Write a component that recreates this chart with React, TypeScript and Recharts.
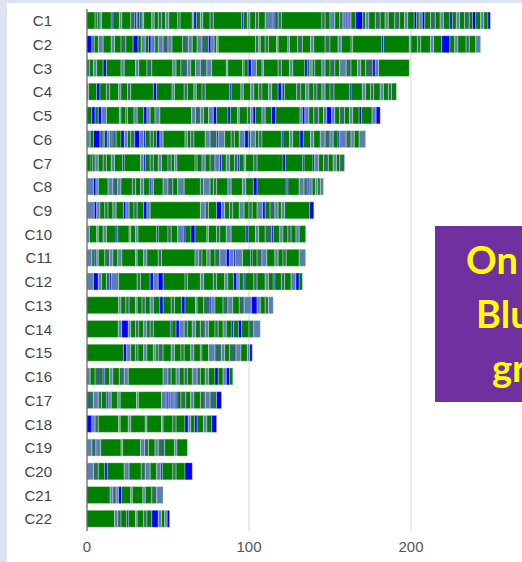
import React from "react";
import { BarChart, Bar, XAxis, YAxis, CartesianGrid, Cell } from "recharts";

const CATEGORIES = ["C1","C2","C3","C4","C5","C6","C7","C8","C9","C10","C11","C12","C13","C14","C15","C16","C17","C18","C19","C20","C21","C22"];
const TOTALS = [249,243,199,191,181,172,159,146,140,135,135,133,115,107,102,90,83,80,62,65,47,51];
const X_TICKS = [0,100,200];

// segment tokens: colour code + start position
const C1 = ["g0","t5","g6.5","s8","g9","b15","g16","s20","g21.5","t27","b29.5","g30.5","b31.5","g32.5","s34","g35","s40","g41.5","t44","g46","s48.5","g50.5","t56","g57.5","s65","b66","g67.5","s70","g71.5","t76","g78","b95.5","g96.5","s99","g100.6","t104","g106","s110","b115","g116","t118","g120","t145","g147","s150","g153","t156","s158","b160","s161","g163","b166","g170.2","s172","g174","t178","g181","s184","g186","t190","g193","s196","g198","b202","g203.5","s205","b207","g208.5","t212","g215","s218","g220","b224","g225.5","s228","g230","t233","g236","b238","g240","s243","g245","b247.5"];
const C2 = ["b0","t3","g4.5","s7","g10","s15","g17","t21","g24","b28.5","g31.5","s33.5","g36","b38","s39.5","g42","s44","t47","s50","g52.5","t59","s62.5","g65","s68","t71","b75","s76.5","g78.5","s80","g81","t104","s106","g107","t110","g112","s117","g118","s124","g125","t130","g133","s138","g140","t147","g150","s155","g157","t163","g164","b182","g183","s199","g200","t204","g206","s212","g214","b219","g224","s227","g229","t234","g236","s240"];
const C3 = ["t0","g1.5","s4","g6","b10","g12","s21","g23","s30","g32","t37","g40","s53","g55","t58","s62","g64","s67","t70","s74","g77","s86","g87","t96","g97","b99.5","s101.5","g104.7","s108","g109","t118","g120","s125","g127","b134.5","g136","s137.5","t139","g140.7","s145","g147","t150","g153","s156","t160","g163","s167","g169","t172","b176.5","s178","g180"];
const C4 = ["s0","g1","b6","g8","t12","g14","s19.5","g21","t25","g27","b41","g43","s52.5","g54","t60","g62","s66","g67.5","t71","g73","b88","g89","s95","g96.5","s101","g103","t106","g108","s112","g114","b118","g120","b121","g122","t129.4","g132","s135","g137","t140","g142","s145","g147","t150","g152.5","b162","g163","s170","g172","t175","g177","s181","g183","t186","g188"];
const C5 = ["g0","b3","g5","b7","s9","g12","s20","g21","t24","g25","s29","g31","b35","s37","g39","s42","g45","s64.6","t67","s70","g72","s75","b78","g80","b87","g88.5","s93","g94","t99","s101","b102.5","g104","s108","g110","b114","g116.5","s131.5","b133","s134.5","g137","t140","g143","s146","b148","s151","g153","t156","g159","s162","g164","b168","g169.5","s176","b178.5"];
const C6 = ["s0","g2","b4","t8","g10","b11","s12.5","g14","b15","t16","g18","b21","s23","g25","t27","b29.5","s32.5","b35","g36","t39","g41","b43","s45","g47","s60.5","g62","t64","g66","s73","t76","b80","s81","g85","t89","g91","s94","b97.5","g99.6","s101","g104","t106","g108","b120","g121","s125","g127","b131.5","g133.5","s138","g140","s144","t147","s150","g152","b155","s156","t160","s163","g165","s168"];
const C7 = ["g0","b2.5","g3.5","s5","g7","t10","g12","s15","g17","b22","g23","s33","b35","g36","t39","g41","s44","g46","t50","g52","s54","g55.5","t66.7","g68","s71","g73","t76","s79","b82","g83","s86","g88","t91","b93","g94","s97","g98","t103","g105","b121","g122.5","b133","g134","b139.5","s140.5","g143","t146","g149","s152","g154","t156"];
const C8 = ["s0","b4","s5.5","g7","s13","t16","s19","g21","t28","g30","s33","g35","b38.5","s39.5","g41","s47","t50","g53","s56","g60","t70","s72","g76","t78","g80","s87","g89","s96","g98","b102.7","g105","b123","g124","s131","t134","b136","s137","g139","s141","g142.5","s144"];
const C9 = ["s0","b4.5","s6","g8","t11","g13","s16","g18","b22.5","s24","g26","t29","g31","b35","s37","g39","s70","t73","g75","b80","s83","g85","t88","g90","s94","g97","t100","g102","s105","b108.5","g110","t113","s116","g118","s120","g122","b137.5"];
const C10 = ["s0","g1.5","s6","g7","s10","g12","b18","g19","s26","g27","s30","g31.5","b43","g44","t50","g52","s56","b59.5","g60.5","b64.2","g66.7","s74","g75","t80","g82","s86","g89","b98.2","g99.5","s104","g106","t110","b114","g115","s119","g121","t124","g126","s129","g131"];
const C11 = ["s0","t3","b5","s6","g7","t11","s14","g16","s19","g21.5","s30","g31","s35","g37","t44","g46","s66.7","t69","g71","s74","g76","t79","s82","b86","s88","b90.5","s91.5","g96","b101","g102","t105","s108","g111","s116","g118","t121","g123","s131"];
const C12 = ["s0","b4","s7","g9","t12","b14","s15","g19.5","t31","g33","b39","s41","b44","g47","t60.5","g62","s70","g72","t78","g80","s85","g87","b90.5","s92.5","g94","b96.5","g97.5","t103","g105","s110","g112","b115","g116","t120","g122","s126","b129","g131"];
const C13 = ["g0","s19.5","g21","t24","g26","s30","g31","t34","g36","s39","g41","b45","g47","t52","g54","b58.5","g60.5","s67","g68","t72","b76","s77","g79","t84","s87","g90","t94","s97","b101.5","s105","g107","t110","s112"];
const C14 = ["g0","s19.3","b21.4","s25.5","g27","t30","g32","s35","g37","t39","g41","b51.5","g52.5","b55","s57","t60","g62","s65","g67","t70","s73","g75","t79","g81","s84","g86","b89.5","g90.5","b93.5","g95.5","t100","s103"];
const C15 = ["g0","b22.5","s24.5","g27","t30","g31.5","s35","g37","s41","g42.5","t44","g47","s52","g54","t58","g60","s64","g66","t70","g71","s75","t79","s83","g85","t88","s92","g95","s99","b100.5"];
const C16 = ["s0","g2","t5","b10","g11","s14","g16","t20","s23","g25.5","s47","t50","g52","s55","g57","t60","g62","s65","t68","g70","s73","g75","b79","g81","s84","b86","g88"];
const C17 = ["t0","s4","t7","g9","b12","s13","g15","s19","g20.5","s30.6","g31.7","s46","b49","s50","b52","s53","b54.5","g55.5","t58","g61","s64","g66","t70","s73","t76","b80"];
const C18 = ["b0","s3","t5","g7","s19.5","g20.5","s25.5","g27","s36","g37","s46","g47","t53","g55","b60.5","s62.5","g64","b66.5","g68","s72","g74","b77"];
const C19 = ["s0","t3","s5.5","g8.5","s21","g22","s33","t35.5","g38","s42","t44","g48","s54","g55.5"];
const C20 = ["s0","t4","g7","b11","g12.5","s23","g26","t33.5","s36","g39","s43","b45.5","g46.5","t53","g55","b60.5"];
const C21 = ["g0","s14.3","t16","s18","b19.5","g21.3","s27","g28","s34.5","g36","t40","s43"];
const C22 = ["g0","s17","t19","g21","b24.5","g25.5","s30","g31","t35","g37","b40","s44","g46","s48","b49.5"];

const SEGMENTS = [C1,C2,C3,C4,C5,C6,C7,C8,C9,C10,C11,C12,C13,C14,C15,C16,C17,C18,C19,C20,C21,C22];
const COLORS: Record<string, string> = { g: "#008000", b: "#0000ff", s: "#5b80b0", t: "#2e6d60" };

const colorGrid: string[][] = [];
const data = CATEGORIES.map((name, i) => {
  const row: Record<string, number | string> = { name };
  const toks = SEGMENTS[i];
  const cols: string[] = [];
  toks.forEach((tok, k) => {
    const start = parseFloat(tok.slice(1));
    const end = k + 1 < toks.length ? parseFloat(toks[k + 1].slice(1)) : TOTALS[i];
    row[`s${k}`] = end - start;
    cols.push(COLORS[tok[0]]);
  });
  colorGrid.push(cols);
  return row;
});
const maxSeg = Math.max(...SEGMENTS.map((s) => s.length));
const segKeys = Array.from({ length: maxSeg }, (_, k) => `s${k}`);

export default function App() {
  return (
    <div style={{ position: "absolute", left: 0, top: 0, width: 522, height: 562, overflow: "hidden", background: "#dbe3f4" }}>
      <div style={{ position: "absolute", left: 7, top: 3, right: 0, bottom: 0, background: "#ffffff" }} />
      <div style={{ position: "absolute", left: 0, top: 0 }}>
        <BarChart
          width={573}
          height={562}
          data={data}
          layout="vertical"
          margin={{ top: 9, right: 0, bottom: 0, left: 0 }}
          barSize={17}
        >
          <CartesianGrid horizontal={false} vertical={true} stroke="#d4d4d4" />
          <XAxis
            type="number"
            domain={[0, 300]}
            ticks={X_TICKS}
            height={31}
            axisLine={false}
            tickLine={false}
            tickSize={0}
            tickMargin={10}
            tick={{ fill: "#555555", fontSize: 15, fontFamily: "Liberation Sans, Arial, sans-serif" }}
            interval={0}
          />
          <YAxis
            type="category"
            dataKey="name"
            width={87}
            axisLine={{ stroke: "#555555" }}
            tickLine={false}
            tickSize={0}
            tickMargin={35}
            interval={0}
            tick={{ fill: "#444444", fontSize: 15, fontFamily: "Liberation Sans, Arial, sans-serif" }}
          />
          {segKeys.map((key, k) => (
            <Bar key={key} dataKey={key} stackId="a" isAnimationActive={false} stroke="#ffffff" strokeOpacity={0.55} strokeWidth={0.6}>
              {data.map((_, i) => (
                <Cell key={i} fill={colorGrid[i][k] || "none"} />
              ))}
            </Bar>
          ))}
        </BarChart>
      </div>
      <div style={{ position: "absolute", left: 435, top: 226, width: 200, height: 176, background: "#7030a0" }}>
        <svg width={200} height={176} style={{ position: "absolute", left: 0, top: 0 }}>
          <g fill="#ffff00" fontFamily="Lato, 'Open Sans', sans-serif" fontWeight="bold" fontSize={38}>
            <text x={31} y={48}>On</text>
            <text x={41} y={102}>Blu</text>
            <text x={57} y={156}>gr</text>
          </g>
        </svg>
      </div>
    </div>
  );
}
